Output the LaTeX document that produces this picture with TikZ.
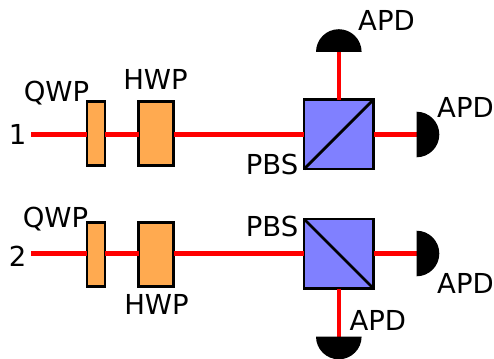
\documentclass[tikz,border=0pt]{standalone}
\usepackage{fontspec}
\setmainfont{DejaVu Sans}
\tikzset{
  wp/.style={draw=black,line width=2.8pt,fill=wpfill,inner sep=0pt,outer sep=0pt,minimum height=64pt},
  qwp/.style={wp,minimum width=18pt},
  hwp/.style={wp,minimum width=35pt},
  pbs/.style={draw=black,line width=2.8pt,fill=pbsfill,inner sep=0pt,outer sep=0pt,minimum width=69.5pt,minimum height=69.5pt},
  beam/.style={red,line width=4.6pt},
  split/.style={black,line width=2.8pt},
  lab/.style={inner sep=0pt,anchor=base,yshift=-0.7pt,xshift=0.5pt,font=\fontsize{27.5pt}{30pt}\selectfont},
  apd/.style={fill=black}
}
\definecolor{wpfill}{RGB}{255,170,80}
\definecolor{pbsfill}{RGB}{128,128,255}
\begin{document}
\begin{tikzpicture}[x=1pt,y=-1pt]
\useasboundingbox (0,0) rectangle (494,358);
\clip (0,0) rectangle (494,358);
% upper arm
\coordinate (s1) at (31,134.5);
\node[qwp] (q1) at (96,133.5) {};
\node[hwp] (h1) at (156,133.5) {};
\node[pbs] (p1) at (338.8,134.3) {};
\coordinate (d1t) at (338.8,52);
\coordinate (d1r) at (416.5,134.5);
\draw[beam] (s1) -- (q1.west |- s1);
\draw[beam] (q1.east |- s1) -- (h1.west |- s1);
\draw[beam] (h1.east |- s1) -- (p1.west |- s1);
\draw[beam] (p1.east |- s1) -- (d1r);
\draw[beam] (p1.north) -- (d1t);
\draw[split] (p1.south west) -- (p1.north east);
\fill[apd] (316,52) arc[start angle=180,end angle=360,radius=22.8] -- cycle;
\fill[apd] (416.5,111.7) arc[start angle=-90,end angle=90,radius=22.8] -- cycle;
% lower arm
\coordinate (s2) at (31,253.5);
\node[qwp] (q2) at (96,254.6) {};
\node[hwp] (h2) at (156,254.6) {};
\node[pbs] (p2) at (338.8,253.8) {};
\coordinate (d2b) at (338.8,336.5);
\coordinate (d2r) at (416.5,253.5);
\draw[beam] (s2) -- (q2.west |- s2);
\draw[beam] (q2.east |- s2) -- (h2.west |- s2);
\draw[beam] (h2.east |- s2) -- (p2.west |- s2);
\draw[beam] (p2.east |- s2) -- (d2r);
\draw[beam] (p2.south) -- (d2b);
\draw[split] (p2.north west) -- (p2.south east);
\fill[apd] (316,336.5) arc[start angle=180,end angle=0,radius=22.8] -- cycle;
\fill[apd] (416.5,230.7) arc[start angle=-90,end angle=90,radius=22.8] -- cycle;
% labels
\node[lab] (t1) at (17,144) {1};
\node[lab] (tq1) at (56,101) {QWP};
\node[lab] (th1) at (155,89.3) {HWP};
\node[lab] (tp1) at (271.5,173.3) {PBS};
\node[lab] (ta1) at (386,30) {APD};
\node[lab] (tb1) at (465,117) {APD};
\node[lab] (t2) at (17,265.5) {2};
\node[lab] (tq2) at (55,227) {QWP};
\node[lab] (th2) at (156,313.3) {HWP};
\node[lab] (tp2) at (271.5,235.3) {PBS};
\node[lab] (ta2) at (465,292.3) {APD};
\node[lab] (tb2) at (377.3,329.7) {APD};
\end{tikzpicture}
\end{document}
